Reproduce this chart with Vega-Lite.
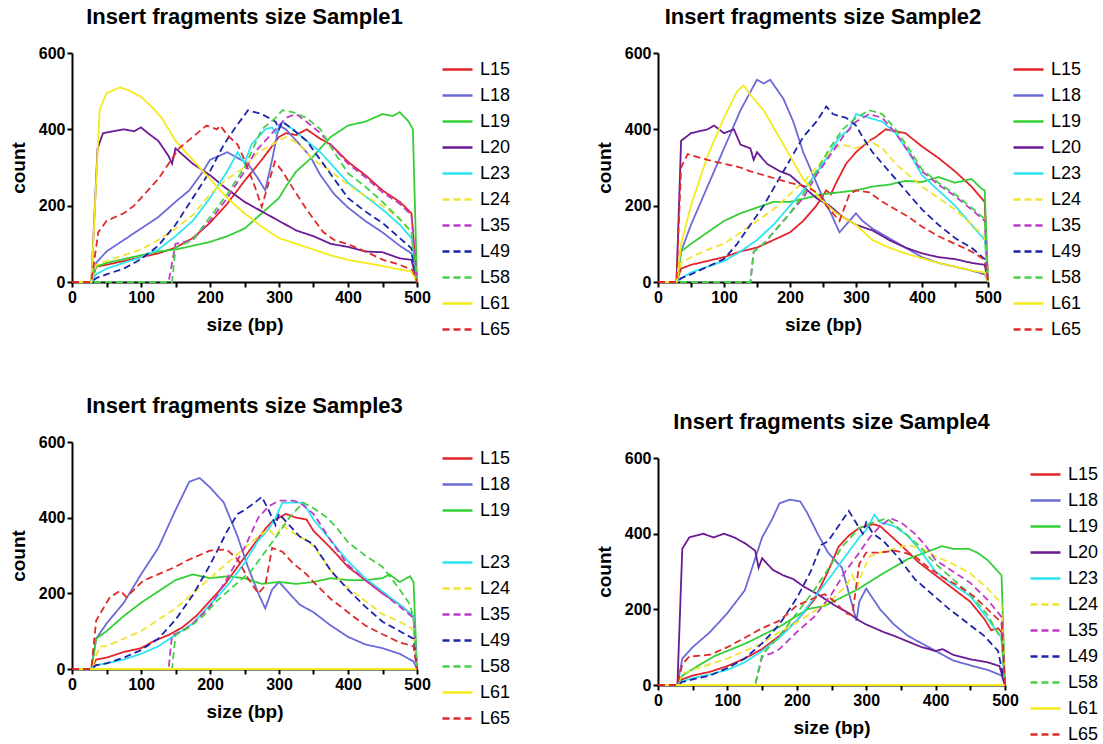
{
"$schema": "https://vega.github.io/schema/vega-lite/v6.json",
"background": "white",
"padding": {"left": 9, "top": 6, "right": 0, "bottom": 0},
"config": {
  "font": "Liberation Sans",
  "view": {"stroke": null},
  "axis": {"domainColor": "black", "domainWidth": 2, "tickColor": "black", "tickWidth": 2, "tickSize": 5, "labelFont": "Liberation Sans", "labelFontWeight": "bold", "labelFontSize": 16, "labelColor": "black", "labelFlush": false, "titleFont": "Liberation Sans", "titleFontWeight": "bold", "titleFontSize": 19, "titleColor": "black", "grid": false, "titlePadding": 10},
  "legend": {"labelFont": "Liberation Sans", "labelFontSize": 18, "labelColor": "black", "symbolType": "stroke", "symbolSize": 900, "symbolStrokeWidth": 2.5, "rowPadding": -7.5, "offset": 20, "padding": 0, "labelOffset": 6},
  "title": {"font": "Liberation Sans", "fontSize": 22, "fontWeight": "bold", "color": "black", "offset": 16, "anchor": "middle", "frame": "group"}
},
"datasets": {
"s1": [
{"s":"L15","x":0,"y":0},{"s":"L15","x":28,"y":0},{"s":"L15","x":35,"y":40},{"s":"L15","x":50,"y":45},{"s":"L15","x":75,"y":55},{"s":"L15","x":100,"y":65},{"s":"L15","x":125,"y":75},{"s":"L15","x":150,"y":90},{"s":"L15","x":175,"y":115},{"s":"L15","x":200,"y":155},{"s":"L15","x":225,"y":205},{"s":"L15","x":250,"y":265},{"s":"L15","x":275,"y":320},{"s":"L15","x":300,"y":380},{"s":"L15","x":310,"y":390},{"s":"L15","x":325,"y":385},{"s":"L15","x":340,"y":400},{"s":"L15","x":360,"y":375},{"s":"L15","x":375,"y":360},{"s":"L15","x":400,"y":315},{"s":"L15","x":425,"y":280},{"s":"L15","x":450,"y":240},{"s":"L15","x":475,"y":210},{"s":"L15","x":492,"y":180},{"s":"L15","x":500,"y":0},
{"s":"L18","x":0,"y":0},{"s":"L18","x":28,"y":0},{"s":"L18","x":35,"y":50},{"s":"L18","x":50,"y":80},{"s":"L18","x":75,"y":110},{"s":"L18","x":100,"y":140},{"s":"L18","x":125,"y":170},{"s":"L18","x":150,"y":210},{"s":"L18","x":170,"y":240},{"s":"L18","x":190,"y":290},{"s":"L18","x":200,"y":320},{"s":"L18","x":225,"y":340},{"s":"L18","x":245,"y":320},{"s":"L18","x":255,"y":310},{"s":"L18","x":270,"y":270},{"s":"L18","x":280,"y":240},{"s":"L18","x":290,"y":320},{"s":"L18","x":300,"y":410},{"s":"L18","x":310,"y":400},{"s":"L18","x":325,"y":370},{"s":"L18","x":345,"y":330},{"s":"L18","x":360,"y":280},{"s":"L18","x":380,"y":230},{"s":"L18","x":400,"y":195},{"s":"L18","x":425,"y":160},{"s":"L18","x":450,"y":130},{"s":"L18","x":475,"y":95},{"s":"L18","x":492,"y":75},{"s":"L18","x":500,"y":0},
{"s":"L19","x":0,"y":0},{"s":"L19","x":28,"y":0},{"s":"L19","x":35,"y":40},{"s":"L19","x":50,"y":50},{"s":"L19","x":75,"y":60},{"s":"L19","x":100,"y":70},{"s":"L19","x":125,"y":80},{"s":"L19","x":150,"y":85},{"s":"L19","x":175,"y":95},{"s":"L19","x":200,"y":105},{"s":"L19","x":225,"y":120},{"s":"L19","x":250,"y":140},{"s":"L19","x":275,"y":180},{"s":"L19","x":300,"y":220},{"s":"L19","x":310,"y":250},{"s":"L19","x":325,"y":290},{"s":"L19","x":350,"y":330},{"s":"L19","x":375,"y":380},{"s":"L19","x":400,"y":410},{"s":"L19","x":425,"y":420},{"s":"L19","x":450,"y":440},{"s":"L19","x":465,"y":435},{"s":"L19","x":475,"y":445},{"s":"L19","x":488,"y":420},{"s":"L19","x":494,"y":400},{"s":"L19","x":500,"y":0},
{"s":"L20","x":0,"y":0},{"s":"L20","x":28,"y":0},{"s":"L20","x":37,"y":350},{"s":"L20","x":45,"y":390},{"s":"L20","x":75,"y":400},{"s":"L20","x":90,"y":395},{"s":"L20","x":100,"y":405},{"s":"L20","x":110,"y":390},{"s":"L20","x":125,"y":370},{"s":"L20","x":140,"y":330},{"s":"L20","x":145,"y":310},{"s":"L20","x":150,"y":350},{"s":"L20","x":175,"y":310},{"s":"L20","x":200,"y":280},{"s":"L20","x":220,"y":250},{"s":"L20","x":250,"y":210},{"s":"L20","x":275,"y":185},{"s":"L20","x":300,"y":160},{"s":"L20","x":325,"y":135},{"s":"L20","x":350,"y":120},{"s":"L20","x":375,"y":100},{"s":"L20","x":400,"y":92},{"s":"L20","x":425,"y":80},{"s":"L20","x":450,"y":78},{"s":"L20","x":475,"y":62},{"s":"L20","x":492,"y":58},{"s":"L20","x":500,"y":0},
{"s":"L23","x":0,"y":0},{"s":"L23","x":28,"y":0},{"s":"L23","x":35,"y":20},{"s":"L23","x":50,"y":35},{"s":"L23","x":75,"y":50},{"s":"L23","x":100,"y":65},{"s":"L23","x":125,"y":85},{"s":"L23","x":150,"y":120},{"s":"L23","x":175,"y":160},{"s":"L23","x":200,"y":220},{"s":"L23","x":225,"y":290},{"s":"L23","x":240,"y":340},{"s":"L23","x":250,"y":310},{"s":"L23","x":260,"y":360},{"s":"L23","x":280,"y":400},{"s":"L23","x":290,"y":405},{"s":"L23","x":295,"y":390},{"s":"L23","x":305,"y":420},{"s":"L23","x":320,"y":400},{"s":"L23","x":340,"y":370},{"s":"L23","x":360,"y":340},{"s":"L23","x":380,"y":300},{"s":"L23","x":400,"y":260},{"s":"L23","x":425,"y":225},{"s":"L23","x":450,"y":190},{"s":"L23","x":475,"y":150},{"s":"L23","x":492,"y":115},{"s":"L23","x":500,"y":0},
{"s":"L24","x":0,"y":0},{"s":"L24","x":28,"y":0},{"s":"L24","x":35,"y":45},{"s":"L24","x":50,"y":55},{"s":"L24","x":75,"y":70},{"s":"L24","x":100,"y":85},{"s":"L24","x":125,"y":110},{"s":"L24","x":150,"y":140},{"s":"L24","x":175,"y":175},{"s":"L24","x":200,"y":230},{"s":"L24","x":225,"y":270},{"s":"L24","x":250,"y":300},{"s":"L24","x":270,"y":340},{"s":"L24","x":290,"y":360},{"s":"L24","x":310,"y":380},{"s":"L24","x":330,"y":360},{"s":"L24","x":350,"y":320},{"s":"L24","x":375,"y":290},{"s":"L24","x":400,"y":255},{"s":"L24","x":425,"y":225},{"s":"L24","x":450,"y":200},{"s":"L24","x":475,"y":165},{"s":"L24","x":492,"y":130},{"s":"L24","x":500,"y":0},
{"s":"L35","x":0,"y":0},{"s":"L35","x":140,"y":0},{"s":"L35","x":150,"y":100},{"s":"L35","x":175,"y":110},{"s":"L35","x":200,"y":160},{"s":"L35","x":225,"y":220},{"s":"L35","x":250,"y":290},{"s":"L35","x":265,"y":340},{"s":"L35","x":280,"y":370},{"s":"L35","x":295,"y":400},{"s":"L35","x":310,"y":430},{"s":"L35","x":325,"y":440},{"s":"L35","x":340,"y":420},{"s":"L35","x":360,"y":390},{"s":"L35","x":380,"y":350},{"s":"L35","x":400,"y":310},{"s":"L35","x":425,"y":275},{"s":"L35","x":450,"y":235},{"s":"L35","x":475,"y":205},{"s":"L35","x":492,"y":175},{"s":"L35","x":500,"y":0},
{"s":"L49","x":0,"y":0},{"s":"L49","x":28,"y":0},{"s":"L49","x":35,"y":10},{"s":"L49","x":50,"y":20},{"s":"L49","x":75,"y":35},{"s":"L49","x":100,"y":60},{"s":"L49","x":125,"y":95},{"s":"L49","x":150,"y":150},{"s":"L49","x":175,"y":220},{"s":"L49","x":200,"y":290},{"s":"L49","x":220,"y":360},{"s":"L49","x":235,"y":400},{"s":"L49","x":255,"y":450},{"s":"L49","x":275,"y":440},{"s":"L49","x":295,"y":420},{"s":"L49","x":300,"y":400},{"s":"L49","x":305,"y":420},{"s":"L49","x":320,"y":400},{"s":"L49","x":340,"y":370},{"s":"L49","x":360,"y":320},{"s":"L49","x":380,"y":270},{"s":"L49","x":400,"y":220},{"s":"L49","x":425,"y":185},{"s":"L49","x":450,"y":155},{"s":"L49","x":475,"y":115},{"s":"L49","x":492,"y":88},{"s":"L49","x":500,"y":0},
{"s":"L58","x":0,"y":0},{"s":"L58","x":145,"y":0},{"s":"L58","x":150,"y":90},{"s":"L58","x":175,"y":110},{"s":"L58","x":200,"y":170},{"s":"L58","x":225,"y":230},{"s":"L58","x":250,"y":300},{"s":"L58","x":265,"y":360},{"s":"L58","x":275,"y":400},{"s":"L58","x":295,"y":430},{"s":"L58","x":305,"y":450},{"s":"L58","x":320,"y":445},{"s":"L58","x":340,"y":430},{"s":"L58","x":360,"y":400},{"s":"L58","x":380,"y":340},{"s":"L58","x":400,"y":285},{"s":"L58","x":425,"y":250},{"s":"L58","x":450,"y":210},{"s":"L58","x":475,"y":165},{"s":"L58","x":492,"y":132},{"s":"L58","x":500,"y":0},
{"s":"L61","x":0,"y":0},{"s":"L61","x":28,"y":0},{"s":"L61","x":40,"y":450},{"s":"L61","x":50,"y":495},{"s":"L61","x":70,"y":510},{"s":"L61","x":85,"y":500},{"s":"L61","x":100,"y":485},{"s":"L61","x":115,"y":460},{"s":"L61","x":130,"y":430},{"s":"L61","x":150,"y":370},{"s":"L61","x":175,"y":320},{"s":"L61","x":200,"y":270},{"s":"L61","x":225,"y":220},{"s":"L61","x":250,"y":180},{"s":"L61","x":275,"y":145},{"s":"L61","x":300,"y":115},{"s":"L61","x":325,"y":100},{"s":"L61","x":350,"y":85},{"s":"L61","x":375,"y":70},{"s":"L61","x":400,"y":58},{"s":"L61","x":425,"y":50},{"s":"L61","x":450,"y":42},{"s":"L61","x":475,"y":33},{"s":"L61","x":492,"y":27},{"s":"L61","x":500,"y":0},
{"s":"L65","x":0,"y":0},{"s":"L65","x":28,"y":0},{"s":"L65","x":38,"y":130},{"s":"L65","x":50,"y":160},{"s":"L65","x":75,"y":180},{"s":"L65","x":90,"y":200},{"s":"L65","x":100,"y":220},{"s":"L65","x":125,"y":270},{"s":"L65","x":140,"y":310},{"s":"L65","x":155,"y":350},{"s":"L65","x":175,"y":380},{"s":"L65","x":195,"y":410},{"s":"L65","x":210,"y":400},{"s":"L65","x":215,"y":410},{"s":"L65","x":225,"y":385},{"s":"L65","x":240,"y":360},{"s":"L65","x":250,"y":320},{"s":"L65","x":265,"y":250},{"s":"L65","x":275,"y":197},{"s":"L65","x":285,"y":260},{"s":"L65","x":294,"y":315},{"s":"L65","x":305,"y":290},{"s":"L65","x":320,"y":246},{"s":"L65","x":340,"y":190},{"s":"L65","x":364,"y":131},{"s":"L65","x":380,"y":110},{"s":"L65","x":403,"y":97},{"s":"L65","x":425,"y":80},{"s":"L65","x":451,"y":58},{"s":"L65","x":475,"y":45},{"s":"L65","x":494,"y":31},{"s":"L65","x":500,"y":0}
],
"s2": [
{"s":"L15","x":0,"y":0},{"s":"L15","x":28,"y":0},{"s":"L15","x":35,"y":35},{"s":"L15","x":50,"y":45},{"s":"L15","x":75,"y":55},{"s":"L15","x":100,"y":65},{"s":"L15","x":125,"y":80},{"s":"L15","x":150,"y":90},{"s":"L15","x":175,"y":110},{"s":"L15","x":200,"y":130},{"s":"L15","x":220,"y":160},{"s":"L15","x":240,"y":200},{"s":"L15","x":255,"y":240},{"s":"L15","x":262,"y":230},{"s":"L15","x":270,"y":260},{"s":"L15","x":285,"y":310},{"s":"L15","x":300,"y":340},{"s":"L15","x":320,"y":370},{"s":"L15","x":330,"y":380},{"s":"L15","x":345,"y":400},{"s":"L15","x":360,"y":395},{"s":"L15","x":375,"y":390},{"s":"L15","x":400,"y":355},{"s":"L15","x":425,"y":325},{"s":"L15","x":450,"y":290},{"s":"L15","x":475,"y":250},{"s":"L15","x":495,"y":210},{"s":"L15","x":500,"y":0},
{"s":"L18","x":0,"y":0},{"s":"L18","x":28,"y":0},{"s":"L18","x":35,"y":80},{"s":"L18","x":50,"y":150},{"s":"L18","x":75,"y":250},{"s":"L18","x":100,"y":350},{"s":"L18","x":125,"y":450},{"s":"L18","x":150,"y":530},{"s":"L18","x":160,"y":520},{"s":"L18","x":170,"y":530},{"s":"L18","x":190,"y":480},{"s":"L18","x":205,"y":420},{"s":"L18","x":220,"y":340},{"s":"L18","x":235,"y":280},{"s":"L18","x":250,"y":220},{"s":"L18","x":262,"y":180},{"s":"L18","x":275,"y":130},{"s":"L18","x":285,"y":150},{"s":"L18","x":300,"y":180},{"s":"L18","x":310,"y":160},{"s":"L18","x":325,"y":140},{"s":"L18","x":350,"y":115},{"s":"L18","x":375,"y":90},{"s":"L18","x":400,"y":65},{"s":"L18","x":425,"y":50},{"s":"L18","x":450,"y":40},{"s":"L18","x":475,"y":30},{"s":"L18","x":495,"y":20},{"s":"L18","x":500,"y":0},
{"s":"L19","x":0,"y":0},{"s":"L19","x":28,"y":0},{"s":"L19","x":35,"y":80},{"s":"L19","x":50,"y":100},{"s":"L19","x":75,"y":130},{"s":"L19","x":100,"y":160},{"s":"L19","x":125,"y":180},{"s":"L19","x":150,"y":195},{"s":"L19","x":175,"y":210},{"s":"L19","x":200,"y":210},{"s":"L19","x":225,"y":220},{"s":"L19","x":250,"y":230},{"s":"L19","x":275,"y":235},{"s":"L19","x":300,"y":240},{"s":"L19","x":325,"y":250},{"s":"L19","x":350,"y":255},{"s":"L19","x":375,"y":265},{"s":"L19","x":400,"y":262},{"s":"L19","x":425,"y":275},{"s":"L19","x":450,"y":260},{"s":"L19","x":475,"y":270},{"s":"L19","x":490,"y":245},{"s":"L19","x":495,"y":240},{"s":"L19","x":500,"y":0},
{"s":"L20","x":0,"y":0},{"s":"L20","x":28,"y":0},{"s":"L20","x":35,"y":370},{"s":"L20","x":50,"y":390},{"s":"L20","x":75,"y":400},{"s":"L20","x":85,"y":410},{"s":"L20","x":100,"y":390},{"s":"L20","x":115,"y":400},{"s":"L20","x":125,"y":360},{"s":"L20","x":140,"y":350},{"s":"L20","x":145,"y":320},{"s":"L20","x":150,"y":340},{"s":"L20","x":165,"y":310},{"s":"L20","x":185,"y":290},{"s":"L20","x":200,"y":280},{"s":"L20","x":220,"y":250},{"s":"L20","x":240,"y":220},{"s":"L20","x":260,"y":200},{"s":"L20","x":280,"y":170},{"s":"L20","x":300,"y":150},{"s":"L20","x":325,"y":135},{"s":"L20","x":350,"y":110},{"s":"L20","x":375,"y":90},{"s":"L20","x":400,"y":75},{"s":"L20","x":425,"y":65},{"s":"L20","x":450,"y":60},{"s":"L20","x":475,"y":50},{"s":"L20","x":495,"y":45},{"s":"L20","x":500,"y":0},
{"s":"L23","x":0,"y":0},{"s":"L23","x":28,"y":0},{"s":"L23","x":35,"y":10},{"s":"L23","x":50,"y":25},{"s":"L23","x":75,"y":40},{"s":"L23","x":100,"y":55},{"s":"L23","x":125,"y":80},{"s":"L23","x":150,"y":110},{"s":"L23","x":175,"y":150},{"s":"L23","x":200,"y":200},{"s":"L23","x":225,"y":250},{"s":"L23","x":250,"y":310},{"s":"L23","x":275,"y":380},{"s":"L23","x":290,"y":400},{"s":"L23","x":300,"y":440},{"s":"L23","x":320,"y":430},{"s":"L23","x":340,"y":420},{"s":"L23","x":360,"y":390},{"s":"L23","x":380,"y":340},{"s":"L23","x":400,"y":280},{"s":"L23","x":425,"y":240},{"s":"L23","x":450,"y":200},{"s":"L23","x":475,"y":150},{"s":"L23","x":495,"y":110},{"s":"L23","x":500,"y":0},
{"s":"L24","x":0,"y":0},{"s":"L24","x":28,"y":0},{"s":"L24","x":35,"y":50},{"s":"L24","x":50,"y":65},{"s":"L24","x":75,"y":85},{"s":"L24","x":100,"y":100},{"s":"L24","x":125,"y":130},{"s":"L24","x":150,"y":160},{"s":"L24","x":175,"y":190},{"s":"L24","x":200,"y":230},{"s":"L24","x":225,"y":270},{"s":"L24","x":250,"y":320},{"s":"L24","x":265,"y":350},{"s":"L24","x":280,"y":360},{"s":"L24","x":300,"y":350},{"s":"L24","x":320,"y":370},{"s":"L24","x":340,"y":350},{"s":"L24","x":360,"y":310},{"s":"L24","x":380,"y":280},{"s":"L24","x":400,"y":250},{"s":"L24","x":425,"y":220},{"s":"L24","x":450,"y":190},{"s":"L24","x":475,"y":150},{"s":"L24","x":495,"y":120},{"s":"L24","x":500,"y":0},
{"s":"L35","x":0,"y":0},{"s":"L35","x":140,"y":0},{"s":"L35","x":145,"y":80},{"s":"L35","x":160,"y":100},{"s":"L35","x":180,"y":140},{"s":"L35","x":200,"y":180},{"s":"L35","x":220,"y":220},{"s":"L35","x":240,"y":280},{"s":"L35","x":260,"y":330},{"s":"L35","x":280,"y":380},{"s":"L35","x":300,"y":420},{"s":"L35","x":320,"y":440},{"s":"L35","x":340,"y":430},{"s":"L35","x":360,"y":390},{"s":"L35","x":380,"y":340},{"s":"L35","x":400,"y":290},{"s":"L35","x":425,"y":255},{"s":"L35","x":450,"y":225},{"s":"L35","x":475,"y":190},{"s":"L35","x":495,"y":160},{"s":"L35","x":500,"y":0},
{"s":"L49","x":0,"y":0},{"s":"L49","x":28,"y":0},{"s":"L49","x":35,"y":10},{"s":"L49","x":50,"y":20},{"s":"L49","x":75,"y":40},{"s":"L49","x":100,"y":60},{"s":"L49","x":120,"y":100},{"s":"L49","x":140,"y":150},{"s":"L49","x":160,"y":200},{"s":"L49","x":180,"y":260},{"s":"L49","x":200,"y":320},{"s":"L49","x":220,"y":380},{"s":"L49","x":240,"y":420},{"s":"L49","x":255,"y":460},{"s":"L49","x":265,"y":440},{"s":"L49","x":285,"y":430},{"s":"L49","x":300,"y":410},{"s":"L49","x":310,"y":380},{"s":"L49","x":325,"y":340},{"s":"L49","x":350,"y":290},{"s":"L49","x":375,"y":240},{"s":"L49","x":400,"y":190},{"s":"L49","x":425,"y":150},{"s":"L49","x":450,"y":115},{"s":"L49","x":475,"y":90},{"s":"L49","x":495,"y":60},{"s":"L49","x":500,"y":0},
{"s":"L58","x":0,"y":0},{"s":"L58","x":140,"y":0},{"s":"L58","x":145,"y":80},{"s":"L58","x":160,"y":100},{"s":"L58","x":180,"y":140},{"s":"L58","x":200,"y":180},{"s":"L58","x":220,"y":230},{"s":"L58","x":240,"y":290},{"s":"L58","x":260,"y":350},{"s":"L58","x":280,"y":400},{"s":"L58","x":300,"y":430},{"s":"L58","x":320,"y":450},{"s":"L58","x":340,"y":440},{"s":"L58","x":360,"y":400},{"s":"L58","x":380,"y":350},{"s":"L58","x":400,"y":295},{"s":"L58","x":425,"y":260},{"s":"L58","x":450,"y":230},{"s":"L58","x":475,"y":195},{"s":"L58","x":495,"y":165},{"s":"L58","x":500,"y":0},
{"s":"L61","x":0,"y":0},{"s":"L61","x":28,"y":0},{"s":"L61","x":35,"y":100},{"s":"L61","x":50,"y":200},{"s":"L61","x":75,"y":330},{"s":"L61","x":100,"y":430},{"s":"L61","x":120,"y":500},{"s":"L61","x":130,"y":515},{"s":"L61","x":140,"y":490},{"s":"L61","x":160,"y":450},{"s":"L61","x":180,"y":390},{"s":"L61","x":200,"y":330},{"s":"L61","x":220,"y":270},{"s":"L61","x":245,"y":220},{"s":"L61","x":270,"y":180},{"s":"L61","x":300,"y":150},{"s":"L61","x":325,"y":110},{"s":"L61","x":350,"y":90},{"s":"L61","x":375,"y":75},{"s":"L61","x":400,"y":62},{"s":"L61","x":425,"y":50},{"s":"L61","x":450,"y":40},{"s":"L61","x":475,"y":30},{"s":"L61","x":495,"y":25},{"s":"L61","x":500,"y":0},
{"s":"L65","x":0,"y":0},{"s":"L65","x":28,"y":0},{"s":"L65","x":35,"y":300},{"s":"L65","x":45,"y":335},{"s":"L65","x":75,"y":320},{"s":"L65","x":100,"y":310},{"s":"L65","x":125,"y":300},{"s":"L65","x":140,"y":290},{"s":"L65","x":160,"y":280},{"s":"L65","x":180,"y":270},{"s":"L65","x":200,"y":260},{"s":"L65","x":225,"y":250},{"s":"L65","x":245,"y":230},{"s":"L65","x":255,"y":200},{"s":"L65","x":275,"y":160},{"s":"L65","x":290,"y":230},{"s":"L65","x":300,"y":240},{"s":"L65","x":320,"y":235},{"s":"L65","x":340,"y":210},{"s":"L65","x":360,"y":190},{"s":"L65","x":380,"y":170},{"s":"L65","x":400,"y":145},{"s":"L65","x":425,"y":120},{"s":"L65","x":450,"y":100},{"s":"L65","x":475,"y":80},{"s":"L65","x":495,"y":58},{"s":"L65","x":500,"y":0}
],
"s3": [
{"s":"L15","x":0,"y":0},{"s":"L15","x":28,"y":0},{"s":"L15","x":35,"y":25},{"s":"L15","x":50,"y":30},{"s":"L15","x":75,"y":45},{"s":"L15","x":100,"y":55},{"s":"L15","x":120,"y":75},{"s":"L15","x":140,"y":90},{"s":"L15","x":160,"y":110},{"s":"L15","x":180,"y":140},{"s":"L15","x":200,"y":180},{"s":"L15","x":220,"y":220},{"s":"L15","x":240,"y":270},{"s":"L15","x":260,"y":320},{"s":"L15","x":280,"y":370},{"s":"L15","x":290,"y":390},{"s":"L15","x":300,"y":400},{"s":"L15","x":310,"y":410},{"s":"L15","x":325,"y":400},{"s":"L15","x":340,"y":395},{"s":"L15","x":350,"y":365},{"s":"L15","x":375,"y":320},{"s":"L15","x":400,"y":270},{"s":"L15","x":425,"y":235},{"s":"L15","x":450,"y":200},{"s":"L15","x":475,"y":170},{"s":"L15","x":495,"y":140},{"s":"L15","x":500,"y":0},
{"s":"L18","x":0,"y":0},{"s":"L18","x":28,"y":0},{"s":"L18","x":35,"y":80},{"s":"L18","x":50,"y":120},{"s":"L18","x":75,"y":175},{"s":"L18","x":100,"y":250},{"s":"L18","x":125,"y":320},{"s":"L18","x":150,"y":420},{"s":"L18","x":170,"y":495},{"s":"L18","x":185,"y":505},{"s":"L18","x":200,"y":480},{"s":"L18","x":220,"y":440},{"s":"L18","x":240,"y":350},{"s":"L18","x":255,"y":270},{"s":"L18","x":270,"y":200},{"s":"L18","x":280,"y":160},{"s":"L18","x":290,"y":210},{"s":"L18","x":300,"y":230},{"s":"L18","x":315,"y":200},{"s":"L18","x":330,"y":170},{"s":"L18","x":350,"y":150},{"s":"L18","x":375,"y":115},{"s":"L18","x":400,"y":85},{"s":"L18","x":425,"y":65},{"s":"L18","x":450,"y":55},{"s":"L18","x":475,"y":40},{"s":"L18","x":495,"y":20},{"s":"L18","x":500,"y":0},
{"s":"L19","x":0,"y":0},{"s":"L19","x":28,"y":0},{"s":"L19","x":35,"y":80},{"s":"L19","x":50,"y":100},{"s":"L19","x":75,"y":140},{"s":"L19","x":100,"y":175},{"s":"L19","x":125,"y":205},{"s":"L19","x":150,"y":235},{"s":"L19","x":175,"y":250},{"s":"L19","x":200,"y":240},{"s":"L19","x":225,"y":245},{"s":"L19","x":250,"y":240},{"s":"L19","x":275,"y":225},{"s":"L19","x":300,"y":230},{"s":"L19","x":325,"y":225},{"s":"L19","x":350,"y":230},{"s":"L19","x":375,"y":240},{"s":"L19","x":400,"y":235},{"s":"L19","x":425,"y":235},{"s":"L19","x":450,"y":240},{"s":"L19","x":460,"y":250},{"s":"L19","x":475,"y":230},{"s":"L19","x":490,"y":245},{"s":"L19","x":495,"y":230},{"s":"L19","x":500,"y":0},
{"s":"L23","x":0,"y":0},{"s":"L23","x":28,"y":0},{"s":"L23","x":35,"y":10},{"s":"L23","x":50,"y":15},{"s":"L23","x":75,"y":25},{"s":"L23","x":100,"y":40},{"s":"L23","x":125,"y":60},{"s":"L23","x":150,"y":90},{"s":"L23","x":175,"y":120},{"s":"L23","x":200,"y":170},{"s":"L23","x":225,"y":220},{"s":"L23","x":250,"y":280},{"s":"L23","x":270,"y":340},{"s":"L23","x":285,"y":370},{"s":"L23","x":295,"y":400},{"s":"L23","x":305,"y":440},{"s":"L23","x":320,"y":440},{"s":"L23","x":335,"y":440},{"s":"L23","x":350,"y":395},{"s":"L23","x":375,"y":340},{"s":"L23","x":400,"y":285},{"s":"L23","x":425,"y":240},{"s":"L23","x":450,"y":205},{"s":"L23","x":475,"y":170},{"s":"L23","x":495,"y":140},{"s":"L23","x":500,"y":0},
{"s":"L24","x":0,"y":0},{"s":"L24","x":28,"y":0},{"s":"L24","x":40,"y":60},{"s":"L24","x":50,"y":60},{"s":"L24","x":75,"y":80},{"s":"L24","x":100,"y":100},{"s":"L24","x":125,"y":130},{"s":"L24","x":150,"y":160},{"s":"L24","x":175,"y":200},{"s":"L24","x":200,"y":240},{"s":"L24","x":225,"y":280},{"s":"L24","x":250,"y":320},{"s":"L24","x":270,"y":350},{"s":"L24","x":285,"y":370},{"s":"L24","x":295,"y":350},{"s":"L24","x":305,"y":380},{"s":"L24","x":320,"y":360},{"s":"L24","x":340,"y":340},{"s":"L24","x":350,"y":325},{"s":"L24","x":375,"y":260},{"s":"L24","x":400,"y":215},{"s":"L24","x":425,"y":180},{"s":"L24","x":450,"y":145},{"s":"L24","x":475,"y":125},{"s":"L24","x":495,"y":105},{"s":"L24","x":500,"y":0},
{"s":"L35","x":0,"y":0},{"s":"L35","x":140,"y":0},{"s":"L35","x":145,"y":90},{"s":"L35","x":160,"y":100},{"s":"L35","x":175,"y":120},{"s":"L35","x":200,"y":165},{"s":"L35","x":225,"y":240},{"s":"L35","x":250,"y":320},{"s":"L35","x":270,"y":400},{"s":"L35","x":285,"y":430},{"s":"L35","x":300,"y":445},{"s":"L35","x":320,"y":445},{"s":"L35","x":330,"y":440},{"s":"L35","x":350,"y":410},{"s":"L35","x":375,"y":340},{"s":"L35","x":400,"y":275},{"s":"L35","x":425,"y":235},{"s":"L35","x":450,"y":200},{"s":"L35","x":475,"y":165},{"s":"L35","x":495,"y":135},{"s":"L35","x":500,"y":0},
{"s":"L49","x":0,"y":0},{"s":"L49","x":28,"y":0},{"s":"L49","x":35,"y":10},{"s":"L49","x":50,"y":15},{"s":"L49","x":75,"y":30},{"s":"L49","x":100,"y":50},{"s":"L49","x":125,"y":80},{"s":"L49","x":150,"y":130},{"s":"L49","x":175,"y":195},{"s":"L49","x":200,"y":275},{"s":"L49","x":225,"y":365},{"s":"L49","x":240,"y":410},{"s":"L49","x":250,"y":420},{"s":"L49","x":265,"y":440},{"s":"L49","x":275,"y":455},{"s":"L49","x":285,"y":420},{"s":"L49","x":295,"y":380},{"s":"L49","x":300,"y":410},{"s":"L49","x":310,"y":390},{"s":"L49","x":330,"y":350},{"s":"L49","x":350,"y":330},{"s":"L49","x":375,"y":260},{"s":"L49","x":400,"y":210},{"s":"L49","x":425,"y":165},{"s":"L49","x":450,"y":125},{"s":"L49","x":475,"y":100},{"s":"L49","x":495,"y":80},{"s":"L49","x":500,"y":0},
{"s":"L58","x":0,"y":0},{"s":"L58","x":145,"y":0},{"s":"L58","x":150,"y":90},{"s":"L58","x":170,"y":110},{"s":"L58","x":190,"y":140},{"s":"L58","x":210,"y":180},{"s":"L58","x":235,"y":220},{"s":"L58","x":260,"y":260},{"s":"L58","x":280,"y":310},{"s":"L58","x":300,"y":360},{"s":"L58","x":315,"y":400},{"s":"L58","x":335,"y":440},{"s":"L58","x":350,"y":425},{"s":"L58","x":370,"y":400},{"s":"L58","x":385,"y":370},{"s":"L58","x":400,"y":335},{"s":"L58","x":425,"y":300},{"s":"L58","x":450,"y":270},{"s":"L58","x":475,"y":210},{"s":"L58","x":490,"y":170},{"s":"L58","x":495,"y":130},{"s":"L58","x":500,"y":0},
{"s":"L61","x":0,"y":0},{"s":"L61","x":500,"y":0},
{"s":"L65","x":0,"y":0},{"s":"L65","x":28,"y":0},{"s":"L65","x":35,"y":128},{"s":"L65","x":55,"y":190},{"s":"L65","x":70,"y":207},{"s":"L65","x":79,"y":190},{"s":"L65","x":103,"y":233},{"s":"L65","x":127,"y":252},{"s":"L65","x":150,"y":270},{"s":"L65","x":166,"y":286},{"s":"L65","x":200,"y":313},{"s":"L65","x":224,"y":316},{"s":"L65","x":240,"y":290},{"s":"L65","x":255,"y":240},{"s":"L65","x":270,"y":200},{"s":"L65","x":280,"y":220},{"s":"L65","x":290,"y":320},{"s":"L65","x":305,"y":310},{"s":"L65","x":320,"y":280},{"s":"L65","x":340,"y":250},{"s":"L65","x":350,"y":230},{"s":"L65","x":375,"y":185},{"s":"L65","x":400,"y":150},{"s":"L65","x":425,"y":115},{"s":"L65","x":450,"y":92},{"s":"L65","x":475,"y":70},{"s":"L65","x":495,"y":60},{"s":"L65","x":500,"y":0}
],
"s4": [
{"s":"L15","x":0,"y":0},{"s":"L15","x":28,"y":0},{"s":"L15","x":35,"y":15},{"s":"L15","x":50,"y":25},{"s":"L15","x":75,"y":35},{"s":"L15","x":100,"y":50},{"s":"L15","x":125,"y":70},{"s":"L15","x":150,"y":95},{"s":"L15","x":175,"y":130},{"s":"L15","x":200,"y":170},{"s":"L15","x":225,"y":225},{"s":"L15","x":245,"y":300},{"s":"L15","x":260,"y":365},{"s":"L15","x":275,"y":395},{"s":"L15","x":290,"y":415},{"s":"L15","x":300,"y":420},{"s":"L15","x":310,"y":425},{"s":"L15","x":320,"y":420},{"s":"L15","x":335,"y":395},{"s":"L15","x":350,"y":370},{"s":"L15","x":375,"y":325},{"s":"L15","x":400,"y":290},{"s":"L15","x":425,"y":255},{"s":"L15","x":450,"y":220},{"s":"L15","x":470,"y":175},{"s":"L15","x":480,"y":145},{"s":"L15","x":490,"y":150},{"s":"L15","x":495,"y":140},{"s":"L15","x":500,"y":0},
{"s":"L18","x":0,"y":0},{"s":"L18","x":28,"y":0},{"s":"L18","x":35,"y":70},{"s":"L18","x":50,"y":100},{"s":"L18","x":75,"y":140},{"s":"L18","x":100,"y":190},{"s":"L18","x":125,"y":250},{"s":"L18","x":150,"y":390},{"s":"L18","x":165,"y":440},{"s":"L18","x":175,"y":480},{"s":"L18","x":190,"y":490},{"s":"L18","x":205,"y":485},{"s":"L18","x":215,"y":455},{"s":"L18","x":230,"y":400},{"s":"L18","x":245,"y":350},{"s":"L18","x":265,"y":310},{"s":"L18","x":280,"y":210},{"s":"L18","x":286,"y":170},{"s":"L18","x":290,"y":220},{"s":"L18","x":300,"y":255},{"s":"L18","x":320,"y":200},{"s":"L18","x":340,"y":160},{"s":"L18","x":360,"y":130},{"s":"L18","x":380,"y":110},{"s":"L18","x":400,"y":90},{"s":"L18","x":425,"y":65},{"s":"L18","x":450,"y":52},{"s":"L18","x":475,"y":40},{"s":"L18","x":495,"y":25},{"s":"L18","x":500,"y":0},
{"s":"L19","x":0,"y":0},{"s":"L19","x":28,"y":0},{"s":"L19","x":35,"y":25},{"s":"L19","x":58,"y":51},{"s":"L19","x":82,"y":77},{"s":"L19","x":100,"y":90},{"s":"L19","x":130,"y":113},{"s":"L19","x":177,"y":156},{"s":"L19","x":216,"y":201},{"s":"L19","x":240,"y":209},{"s":"L19","x":288,"y":253},{"s":"L19","x":320,"y":290},{"s":"L19","x":360,"y":333},{"s":"L19","x":385,"y":350},{"s":"L19","x":409,"y":367},{"s":"L19","x":425,"y":360},{"s":"L19","x":447,"y":360},{"s":"L19","x":460,"y":350},{"s":"L19","x":475,"y":330},{"s":"L19","x":490,"y":300},{"s":"L19","x":495,"y":290},{"s":"L19","x":500,"y":0},
{"s":"L20","x":0,"y":0},{"s":"L20","x":28,"y":0},{"s":"L20","x":35,"y":360},{"s":"L20","x":45,"y":390},{"s":"L20","x":65,"y":400},{"s":"L20","x":80,"y":390},{"s":"L20","x":95,"y":400},{"s":"L20","x":110,"y":390},{"s":"L20","x":125,"y":375},{"s":"L20","x":140,"y":355},{"s":"L20","x":145,"y":310},{"s":"L20","x":150,"y":335},{"s":"L20","x":165,"y":305},{"s":"L20","x":180,"y":290},{"s":"L20","x":195,"y":280},{"s":"L20","x":210,"y":260},{"s":"L20","x":230,"y":240},{"s":"L20","x":255,"y":210},{"s":"L20","x":275,"y":190},{"s":"L20","x":290,"y":170},{"s":"L20","x":300,"y":160},{"s":"L20","x":325,"y":140},{"s":"L20","x":340,"y":130},{"s":"L20","x":360,"y":115},{"s":"L20","x":380,"y":100},{"s":"L20","x":400,"y":90},{"s":"L20","x":410,"y":95},{"s":"L20","x":425,"y":80},{"s":"L20","x":450,"y":68},{"s":"L20","x":475,"y":60},{"s":"L20","x":492,"y":50},{"s":"L20","x":500,"y":0},
{"s":"L23","x":0,"y":0},{"s":"L23","x":28,"y":0},{"s":"L23","x":35,"y":10},{"s":"L23","x":50,"y":18},{"s":"L23","x":75,"y":28},{"s":"L23","x":100,"y":40},{"s":"L23","x":125,"y":60},{"s":"L23","x":150,"y":90},{"s":"L23","x":175,"y":125},{"s":"L23","x":200,"y":170},{"s":"L23","x":225,"y":230},{"s":"L23","x":250,"y":290},{"s":"L23","x":270,"y":340},{"s":"L23","x":290,"y":390},{"s":"L23","x":300,"y":410},{"s":"L23","x":312,"y":450},{"s":"L23","x":320,"y":430},{"s":"L23","x":340,"y":420},{"s":"L23","x":360,"y":395},{"s":"L23","x":380,"y":350},{"s":"L23","x":400,"y":300},{"s":"L23","x":425,"y":265},{"s":"L23","x":450,"y":235},{"s":"L23","x":475,"y":175},{"s":"L23","x":495,"y":125},{"s":"L23","x":500,"y":0},
{"s":"L24","x":0,"y":0},{"s":"L24","x":28,"y":0},{"s":"L24","x":35,"y":30},{"s":"L24","x":50,"y":40},{"s":"L24","x":75,"y":55},{"s":"L24","x":100,"y":70},{"s":"L24","x":125,"y":90},{"s":"L24","x":150,"y":110},{"s":"L24","x":175,"y":140},{"s":"L24","x":200,"y":165},{"s":"L24","x":225,"y":195},{"s":"L24","x":250,"y":225},{"s":"L24","x":270,"y":260},{"s":"L24","x":280,"y":290},{"s":"L24","x":287,"y":260},{"s":"L24","x":295,"y":300},{"s":"L24","x":305,"y":340},{"s":"L24","x":320,"y":350},{"s":"L24","x":340,"y":360},{"s":"L24","x":360,"y":370},{"s":"L24","x":380,"y":360},{"s":"L24","x":400,"y":340},{"s":"L24","x":425,"y":320},{"s":"L24","x":450,"y":295},{"s":"L24","x":475,"y":255},{"s":"L24","x":495,"y":215},{"s":"L24","x":500,"y":0},
{"s":"L35","x":0,"y":0},{"s":"L35","x":140,"y":0},{"s":"L35","x":150,"y":75},{"s":"L35","x":165,"y":85},{"s":"L35","x":175,"y":95},{"s":"L35","x":200,"y":140},{"s":"L35","x":225,"y":180},{"s":"L35","x":250,"y":240},{"s":"L35","x":270,"y":300},{"s":"L35","x":290,"y":350},{"s":"L35","x":305,"y":390},{"s":"L35","x":320,"y":420},{"s":"L35","x":335,"y":440},{"s":"L35","x":350,"y":430},{"s":"L35","x":370,"y":400},{"s":"L35","x":385,"y":370},{"s":"L35","x":400,"y":330},{"s":"L35","x":425,"y":300},{"s":"L35","x":450,"y":270},{"s":"L35","x":475,"y":225},{"s":"L35","x":495,"y":180},{"s":"L35","x":500,"y":0},
{"s":"L49","x":0,"y":0},{"s":"L49","x":28,"y":0},{"s":"L49","x":35,"y":8},{"s":"L49","x":50,"y":15},{"s":"L49","x":75,"y":25},{"s":"L49","x":100,"y":45},{"s":"L49","x":125,"y":70},{"s":"L49","x":150,"y":110},{"s":"L49","x":175,"y":160},{"s":"L49","x":200,"y":230},{"s":"L49","x":220,"y":300},{"s":"L49","x":235,"y":370},{"s":"L49","x":245,"y":380},{"s":"L49","x":260,"y":420},{"s":"L49","x":275,"y":460},{"s":"L49","x":285,"y":430},{"s":"L49","x":295,"y":400},{"s":"L49","x":300,"y":430},{"s":"L49","x":310,"y":400},{"s":"L49","x":325,"y":380},{"s":"L49","x":345,"y":340},{"s":"L49","x":370,"y":280},{"s":"L49","x":395,"y":240},{"s":"L49","x":420,"y":200},{"s":"L49","x":445,"y":165},{"s":"L49","x":470,"y":130},{"s":"L49","x":490,"y":90},{"s":"L49","x":500,"y":0},
{"s":"L58","x":0,"y":0},{"s":"L58","x":140,"y":0},{"s":"L58","x":150,"y":80},{"s":"L58","x":175,"y":130},{"s":"L58","x":200,"y":190},{"s":"L58","x":225,"y":250},{"s":"L58","x":250,"y":320},{"s":"L58","x":265,"y":365},{"s":"L58","x":290,"y":415},{"s":"L58","x":310,"y":430},{"s":"L58","x":330,"y":440},{"s":"L58","x":350,"y":410},{"s":"L58","x":375,"y":370},{"s":"L58","x":400,"y":320},{"s":"L58","x":425,"y":280},{"s":"L58","x":450,"y":240},{"s":"L58","x":475,"y":185},{"s":"L58","x":495,"y":120},{"s":"L58","x":500,"y":0},
{"s":"L61","x":0,"y":0},{"s":"L61","x":500,"y":0},
{"s":"L65","x":0,"y":0},{"s":"L65","x":28,"y":0},{"s":"L65","x":35,"y":55},{"s":"L65","x":45,"y":75},{"s":"L65","x":75,"y":80},{"s":"L65","x":100,"y":100},{"s":"L65","x":125,"y":125},{"s":"L65","x":150,"y":150},{"s":"L65","x":175,"y":170},{"s":"L65","x":200,"y":210},{"s":"L65","x":225,"y":230},{"s":"L65","x":240,"y":240},{"s":"L65","x":255,"y":220},{"s":"L65","x":270,"y":190},{"s":"L65","x":280,"y":185},{"s":"L65","x":290,"y":320},{"s":"L65","x":300,"y":350},{"s":"L65","x":320,"y":350},{"s":"L65","x":340,"y":355},{"s":"L65","x":355,"y":350},{"s":"L65","x":370,"y":340},{"s":"L65","x":390,"y":310},{"s":"L65","x":410,"y":285},{"s":"L65","x":430,"y":265},{"s":"L65","x":455,"y":235},{"s":"L65","x":475,"y":200},{"s":"L65","x":495,"y":165},{"s":"L65","x":500,"y":0}
]
},
"hconcat": [
 {"vconcat": [
  {"data": {"name": "s1"}, "width": 345, "height": 229,
   "title": {"text": "Insert fragments size Sample1"},
   "mark": {"type": "line", "strokeWidth": 1.8},
   "encoding": {
    "x": {"field": "x", "type": "quantitative", "scale": {"domain": [0, 500], "nice": false}, "axis": {"values": [0,50,100,150,200,250,300,350,400,450,500], "labelExpr": "datum.value % 100 === 0 ? datum.label : ''", "title": "size (bp)"}},
    "y": {"field": "y", "type": "quantitative", "scale": {"domain": [0, 600], "nice": false}, "axis": {"values": [0,200,400,600], "title": "count"}},
    "color": {"field": "s", "type": "nominal", "scale": {"domain": ["L15","L18","L19","L20","L23","L24","L35","L49","L58","L61","L65"], "range": ["#e4222a","#6b6bd8","#35cf35","#6a1a94","#2ee4f0","#f0e430","#c03ac8","#1c24a8","#45d045","#f4ea1c","#e02a2a"]}, "legend": {"title": null}},
    "strokeDash": {"field": "s", "type": "nominal", "scale": {"domain": ["L15","L18","L19","L20","L23","L24","L35","L49","L58","L61","L65"], "range": [[1,0],[1,0],[1,0],[1,0],[1,0],[7,4],[7,4],[7,4],[7,4],[1,0],[7,4]]}, "legend": {"title": null}}
   }},
  {"data": {"name": "s3"}, "width": 345, "height": 227,
   "title": {"text": "Insert fragments size Sample3"},
   "mark": {"type": "line", "strokeWidth": 1.8},
   "encoding": {
    "x": {"field": "x", "type": "quantitative", "scale": {"domain": [0, 500], "nice": false}, "axis": {"values": [0,50,100,150,200,250,300,350,400,450,500], "labelExpr": "datum.value % 100 === 0 ? datum.label : ''", "title": "size (bp)"}},
    "y": {"field": "y", "type": "quantitative", "scale": {"domain": [0, 600], "nice": false}, "axis": {"values": [0,200,400,600], "title": "count"}},
    "color": {"field": "s", "type": "nominal", "scale": {"domain": ["L15","L18","L19","L20","L23","L24","L35","L49","L58","L61","L65"], "range": ["#e4222a","#6b6bd8","#35cf35","transparent","#2ee4f0","#f0e430","#c03ac8","#1c24a8","#45d045","#f4ea1c","#e02a2a"]}, "legend": {"title": null, "labelExpr": "datum.label === 'L20' ? '' : datum.label"}},
    "strokeDash": {"field": "s", "type": "nominal", "scale": {"domain": ["L15","L18","L19","L20","L23","L24","L35","L49","L58","L61","L65"], "range": [[1,0],[1,0],[1,0],[1,0],[1,0],[7,4],[7,4],[7,4],[7,4],[1,0],[7,4]]}, "legend": {"title": null, "labelExpr": "datum.label === 'L20' ? '' : datum.label"}}
   }}
 ], "spacing": 56, "resolve": {"scale": {"color": "independent", "strokeDash": "independent"}}},
 {"vconcat": [
  {"data": {"name": "s2"}, "width": 330, "height": 229,
   "title": {"text": "Insert fragments size Sample2"},
   "mark": {"type": "line", "strokeWidth": 1.8},
   "encoding": {
    "x": {"field": "x", "type": "quantitative", "scale": {"domain": [0, 500], "nice": false}, "axis": {"values": [0,50,100,150,200,250,300,350,400,450,500], "labelExpr": "datum.value % 100 === 0 ? datum.label : ''", "title": "size (bp)"}},
    "y": {"field": "y", "type": "quantitative", "scale": {"domain": [0, 600], "nice": false}, "axis": {"values": [0,200,400,600], "title": "count"}},
    "color": {"field": "s", "type": "nominal", "scale": {"domain": ["L15","L18","L19","L20","L23","L24","L35","L49","L58","L61","L65"], "range": ["#e4222a","#6b6bd8","#35cf35","#6a1a94","#2ee4f0","#f0e430","#c03ac8","#1c24a8","#45d045","#f4ea1c","#e02a2a"]}, "legend": {"title": null}},
    "strokeDash": {"field": "s", "type": "nominal", "scale": {"domain": ["L15","L18","L19","L20","L23","L24","L35","L49","L58","L61","L65"], "range": [[1,0],[1,0],[1,0],[1,0],[1,0],[7,4],[7,4],[7,4],[7,4],[1,0],[7,4]]}, "legend": {"title": null}}
   }},
  {"data": {"name": "s4"}, "width": 347, "height": 227,
   "title": {"text": "Insert fragments size Sample4"},
   "mark": {"type": "line", "strokeWidth": 1.8},
   "encoding": {
    "x": {"field": "x", "type": "quantitative", "scale": {"domain": [0, 500], "nice": false}, "axis": {"values": [0,50,100,150,200,250,300,350,400,450,500], "labelExpr": "datum.value % 100 === 0 ? datum.label : ''", "title": "size (bp)"}},
    "y": {"field": "y", "type": "quantitative", "scale": {"domain": [0, 600], "nice": false}, "axis": {"values": [0,200,400,600], "title": "count"}},
    "color": {"field": "s", "type": "nominal", "scale": {"domain": ["L15","L18","L19","L20","L23","L24","L35","L49","L58","L61","L65"], "range": ["#e4222a","#6b6bd8","#35cf35","#6a1a94","#2ee4f0","#f0e430","#c03ac8","#1c24a8","#45d045","#f4ea1c","#e02a2a"]}, "legend": {"title": null}},
    "strokeDash": {"field": "s", "type": "nominal", "scale": {"domain": ["L15","L18","L19","L20","L23","L24","L35","L49","L58","L61","L65"], "range": [[1,0],[1,0],[1,0],[1,0],[1,0],[7,4],[7,4],[7,4],[7,4],[1,0],[7,4]]}, "legend": {"title": null}}
   }}
 ], "spacing": 72, "resolve": {"scale": {"color": "independent", "strokeDash": "independent"}}}
],
"spacing": 84,
"resolve": {"scale": {"color": "independent", "strokeDash": "independent"}}
}
